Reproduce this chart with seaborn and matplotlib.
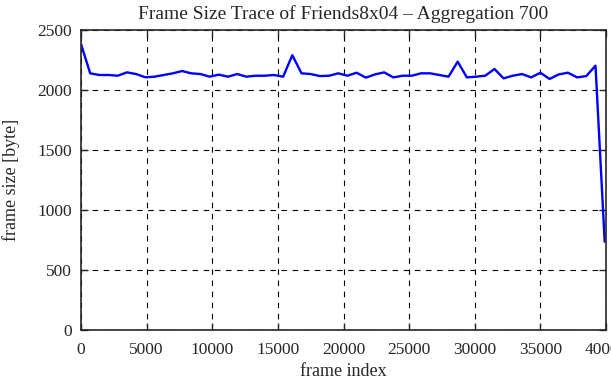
import pandas as pd
import seaborn as sns
from matplotlib import pyplot as plt

# frame index (aggregation of 700 frames) and mean frame size in bytes
frame_index = [700 * k for k in range(58)]
frame_size = [2383, 2139, 2125, 2125, 2119, 2147, 2133, 2106, 2111, 2125,
              2139, 2158, 2139, 2133, 2111, 2128, 2111, 2133, 2111, 2119,
              2119, 2125, 2111, 2290, 2139, 2133, 2116, 2119, 2139, 2119,
              2144, 2103, 2130, 2147, 2105, 2119, 2119, 2139, 2139, 2125,
              2111, 2236, 2105, 2111, 2119, 2175, 2097, 2119, 2133, 2105,
              2144, 2092, 2130, 2144, 2105, 2116, 2203, 736]
x_ticks = [0, 5000, 10000, 15000, 20000, 25000, 30000, 35000, 40000]
y_ticks = [0, 500, 1000, 1500, 2000, 2500]

df = pd.DataFrame({'frame index': frame_index, 'frame size': frame_size})

sns.set_style('ticks')
plt.rcParams['font.family'] = ['Liberation Serif', 'DejaVu Serif']

fig = plt.figure(figsize=(6.11, 3.8), dpi=100)
ax = fig.add_axes([81 / 611, 50 / 380, 525 / 611, 300 / 380])

sns.lineplot(data=df, x='frame index', y='frame size', color='#0000ff',
             linewidth=1.7, ax=ax)

ax.set_xlim(0, 40000)
ax.set_ylim(0, 2500)
ax.set_xticks(x_ticks)
ax.set_yticks(y_ticks)
ax.grid(True, color='black', linestyle=(0, (5, 5)), linewidth=0.8)
ax.tick_params(direction='in', top=True, right=True, length=5, width=1,
               labelsize=12.5)
ax.tick_params(axis='x', pad=8.5)
ax.tick_params(axis='y', pad=6.5)
for s in ax.spines.values():
    s.set_linewidth(1.2)

ax.set_title('Frame Size Trace of Friends8x04 – Aggregation 700', fontsize=14, pad=8)
ax.set_xlabel('frame index', fontsize=13, va='top')
ax.xaxis.set_label_coords(0.5, -0.11)
ax.set_ylabel('frame size [byte]', fontsize=13, va='center')
ax.yaxis.set_label_coords(-0.134, 0.5)

plt.savefig('out.png', dpi=100)
